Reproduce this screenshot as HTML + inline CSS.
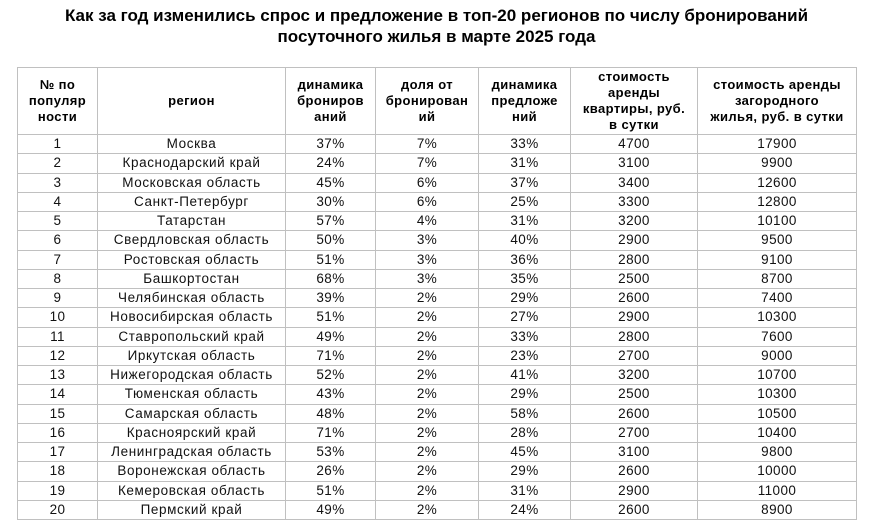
<!DOCTYPE html>
<html><head><meta charset="utf-8"><style>
body{margin:0;width:873px;height:530px;background:#fff;font-family:"Liberation Sans","DejaVu Sans",sans-serif;color:#000;position:relative;overflow:hidden}
h1{position:absolute;left:0;top:5px;width:873px;margin:0;text-align:center;font-size:17px;line-height:21px;font-weight:bold}
table{position:absolute;left:17px;top:67px;border-collapse:collapse;table-layout:fixed;width:839px}
td,th{border:1px solid #c0c0c0;padding:0;text-align:center;font-size:13px;white-space:nowrap;overflow:hidden}
th{height:66px;font-weight:bold;line-height:16px;white-space:normal;letter-spacing:0.4px}
td{height:18.25px;line-height:18px;letter-spacing:0.4px;font-size:13.5px;color:#111}
td:nth-child(2){letter-spacing:0.6px}
</style></head><body>
<h1>Как за год изменились спрос и предложение в топ-20 регионов по числу бронирований<br>посуточного жилья в марте 2025 года</h1>
<table>
<colgroup><col style="width:80px"><col style="width:188px"><col style="width:90px"><col style="width:103px"><col style="width:92px"><col style="width:127px"><col style="width:159px"></colgroup>
<tr><th>№ по<br>популяр<br>ности</th><th>регион</th><th>динамика<br>брониров<br>аний</th><th>доля от<br>бронирован<br>ий</th><th>динамика<br>предложе<br>ний</th><th>стоимость<br>аренды<br>квартиры, руб.<br>в сутки</th><th>стоимость аренды<br>загородного<br>жилья, руб. в сутки</th></tr>
<tr><td>1</td><td>Москва</td><td>37%</td><td>7%</td><td>33%</td><td>4700</td><td>17900</td></tr>
<tr><td>2</td><td>Краснодарский край</td><td>24%</td><td>7%</td><td>31%</td><td>3100</td><td>9900</td></tr>
<tr><td>3</td><td>Московская область</td><td>45%</td><td>6%</td><td>37%</td><td>3400</td><td>12600</td></tr>
<tr><td>4</td><td>Санкт-Петербург</td><td>30%</td><td>6%</td><td>25%</td><td>3300</td><td>12800</td></tr>
<tr><td>5</td><td>Татарстан</td><td>57%</td><td>4%</td><td>31%</td><td>3200</td><td>10100</td></tr>
<tr><td>6</td><td>Свердловская область</td><td>50%</td><td>3%</td><td>40%</td><td>2900</td><td>9500</td></tr>
<tr><td>7</td><td>Ростовская область</td><td>51%</td><td>3%</td><td>36%</td><td>2800</td><td>9100</td></tr>
<tr><td>8</td><td>Башкортостан</td><td>68%</td><td>3%</td><td>35%</td><td>2500</td><td>8700</td></tr>
<tr><td>9</td><td>Челябинская область</td><td>39%</td><td>2%</td><td>29%</td><td>2600</td><td>7400</td></tr>
<tr><td>10</td><td>Новосибирская область</td><td>51%</td><td>2%</td><td>27%</td><td>2900</td><td>10300</td></tr>
<tr><td>11</td><td>Ставропольский край</td><td>49%</td><td>2%</td><td>33%</td><td>2800</td><td>7600</td></tr>
<tr><td>12</td><td>Иркутская область</td><td>71%</td><td>2%</td><td>23%</td><td>2700</td><td>9000</td></tr>
<tr><td>13</td><td>Нижегородская область</td><td>52%</td><td>2%</td><td>41%</td><td>3200</td><td>10700</td></tr>
<tr><td>14</td><td>Тюменская область</td><td>43%</td><td>2%</td><td>29%</td><td>2500</td><td>10300</td></tr>
<tr><td>15</td><td>Самарская область</td><td>48%</td><td>2%</td><td>58%</td><td>2600</td><td>10500</td></tr>
<tr><td>16</td><td>Красноярский край</td><td>71%</td><td>2%</td><td>28%</td><td>2700</td><td>10400</td></tr>
<tr><td>17</td><td>Ленинградская область</td><td>53%</td><td>2%</td><td>45%</td><td>3100</td><td>9800</td></tr>
<tr><td>18</td><td>Воронежская область</td><td>26%</td><td>2%</td><td>29%</td><td>2600</td><td>10000</td></tr>
<tr><td>19</td><td>Кемеровская область</td><td>51%</td><td>2%</td><td>31%</td><td>2900</td><td>11000</td></tr>
<tr><td>20</td><td>Пермский край</td><td>49%</td><td>2%</td><td>24%</td><td>2600</td><td>8900</td></tr>
</table>
</body></html>
